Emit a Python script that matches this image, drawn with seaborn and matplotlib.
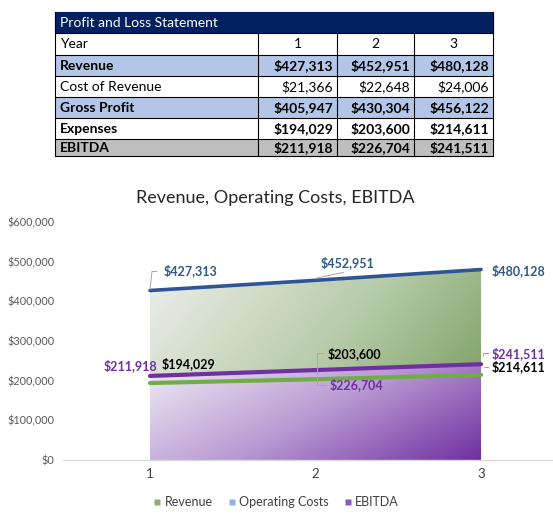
import numpy as np
import matplotlib
matplotlib.use("Agg")
import matplotlib.pyplot as plt
import seaborn as sns
from matplotlib.patches import Rectangle, Polygon
from matplotlib.colors import LinearSegmentedColormap
from matplotlib.lines import Line2D

# ---------------- data ----------------
years = [1, 2, 3]
revenue = [427313, 452951, 480128]
cost_of_revenue = [21366, 22648, 24006]
gross_profit = [405947, 430304, 456122]
expenses = [194029, 203600, 214611]
ebitda = [211918, 226704, 241511]
table_title = "Profit and Loss Statement"
row_labels = ["Year", "Revenue", "Cost of Revenue", "Gross Profit", "Expenses", "EBITDA"]
chart_title = "Revenue, Operating Costs, EBITDA"
legend_labels = ["Revenue", "Operating Costs", "EBITDA"]
y_ticks = [0, 100000, 200000, 300000, 400000, 500000, 600000]

sns.set_theme(style="white")
plt.rcParams['font.family'] = ['Lato', 'DejaVu Sans']

W, H = 553, 530
DPI = 100
fig = plt.figure(figsize=(W / DPI, H / DPI), dpi=DPI)
fig.patch.set_facecolor("white")


def px_rect(x0, y0, x1, y1):
    return [x0 / W, 1 - y1 / H, (x1 - x0) / W, (y1 - y0) / H]


def money(v):
    return "${:,.0f}".format(v)


# ---------------- table ----------------
tax = fig.add_axes([0, 0, 1, 1])
tax.set_xlim(0, W)
tax.set_ylim(H, 0)
tax.axis("off")

col_x = [55, 258, 337, 414, 493]
row_y = [12, 33, 55, 76, 97, 118, 139, 156]
navy = "#002060"
light_blue = "#b4c6e7"
gray = "#bfbfbf"

tax.add_patch(Rectangle((col_x[0], row_y[0]), col_x[-1] - col_x[0], row_y[1] - row_y[0],
                        facecolor=navy, edgecolor=navy, lw=0.8))
tax.text(col_x[0] + 5, (row_y[0] + row_y[1]) / 2 + 0.5, table_title, color="white",
         fontsize=10, va="center", ha="left")

rows = [
    (row_labels[0], years, "white", False, "center"),
    (row_labels[1], revenue, light_blue, True, "right"),
    (row_labels[2], cost_of_revenue, "white", False, "right"),
    (row_labels[3], gross_profit, light_blue, True, "right"),
    (row_labels[4], expenses, "white", True, "right"),
    (row_labels[5], ebitda, gray, True, "right"),
]
for i, (lab, vals, fc, bold, align) in enumerate(rows):
    y0, y1 = row_y[i + 1], row_y[i + 2]
    yc = (y0 + y1) / 2 + 0.5
    tax.add_patch(Rectangle((col_x[0], y0), col_x[-1] - col_x[0], y1 - y0,
                            facecolor=fc, edgecolor="none"))
    fw = "bold" if bold else "normal"
    tax.text(col_x[0] + 5, yc, lab, fontsize=10, fontweight=fw, va="center",
             ha="left", color="black")
    for j, v in enumerate(vals):
        if align == "center":
            tax.text((col_x[j + 1] + col_x[j + 2]) / 2, yc, str(v), fontsize=10,
                     va="center", ha="center", color="black")
        else:
            tax.text(col_x[j + 2] - 4, yc, money(v), fontsize=10, fontweight=fw,
                     va="center", ha="right", color="black")

for yy in row_y[1:]:
    tax.plot([col_x[0], col_x[-1]], [yy, yy], color="black", lw=0.8)
for xx in col_x[1:-1]:
    tax.plot([xx, xx], [row_y[1], row_y[-1]], color="black", lw=0.8)
tax.plot([col_x[0], col_x[0]], [row_y[0], row_y[-1]], color="black", lw=0.8)
tax.plot([col_x[-1], col_x[-1]], [row_y[0], row_y[-1]], color="black", lw=0.8)

# title of chart
tax.text(275, 198, chart_title, fontsize=13, color="#262626", ha="center", va="center")

# ---------------- chart ----------------
ax = fig.add_axes(px_rect(63, 222, 553, 460))
xmin = 1 - 87 / 165.5
xmax = 3 + 72 / 165.5
ymax = 600000


def grad_fill(x, y, colors, wx, wy, zorder):
    verts = [(x[0], 0)] + list(zip(x, y)) + [(x[-1], 0)]
    poly = Polygon(verts, closed=True, facecolor="none", edgecolor="none",
                   transform=ax.transData)
    ax.add_patch(poly)
    n = 300
    X, Y = np.meshgrid(np.linspace(0, 1, n), np.linspace(0, 1, n))
    t = wx * X + wy * Y
    t = (t - t.min()) / (t.max() - t.min())
    cmap = LinearSegmentedColormap.from_list("g", colors)
    im = ax.imshow(t, cmap=cmap, extent=[x[0], x[-1], 0, max(y)], origin="upper",
                   aspect="auto", zorder=zorder, interpolation="bilinear")
    im.set_clip_path(poly)


grad_fill(years, revenue, ["#eceeeb", "#b7cba9", "#6b9650"], 0.75, 0.35, 1)
grad_fill(years, ebitda, ["#efebf5", "#b99bd3", "#7030a0"], 0.65, 0.35, 2)

sns.lineplot(x=years, y=revenue, ax=ax, color="#2f5597", lw=2.6, zorder=5)
sns.lineplot(x=years, y=expenses, ax=ax, color="#70ad47", lw=3.0, zorder=5)
sns.lineplot(x=years, y=ebitda, ax=ax, color="#7030a0", lw=3.0, zorder=5)

ax.set_xlim(xmin, xmax)
ax.set_ylim(0, ymax)
ax.set_xticks(years)
ax.set_xticklabels([str(v) for v in years])
ax.set_yticks(y_ticks)
ax.set_yticklabels([money(v) for v in y_ticks])
ax.tick_params(axis="y", length=0, pad=6, labelsize=7.8, labelcolor="#595959")
ax.tick_params(axis="x", length=0, pad=6, labelsize=9.5, labelcolor="#404040")
for s in ["top", "right", "left"]:
    ax.spines[s].set_visible(False)
ax.spines["bottom"].set_color("#d9d9d9")
ax.spines["bottom"].set_linewidth(1.0)
ax.set_facecolor("none")
ax.grid(False)
ax.set_xlabel("")
ax.set_ylabel("")

# ---------------- data labels ----------------
k = 0.72  # pixels -> points
rev_c = "#2e5a88"
ebit_c = "#7030a0"
exp_c = "#000000"
label_specs = [
    # series, index, dx px, dy px (up positive), ha, color
    (revenue, 0, 14, 20, "left", rev_c),
    (revenue, 1, 32, 18, "center", rev_c),
    (revenue, 2, 11, -1, "left", rev_c),
    (expenses, 0, 12, 19, "left", exp_c),
    (expenses, 1, 12, 26, "left", exp_c),
    (expenses, 2, 11, 8, "left", exp_c),
    (ebitda, 0, 7, 10, "right", ebit_c),
    (ebitda, 1, 14, -15, "left", ebit_c),
    (ebitda, 2, 11, 11, "left", ebit_c),
]
for series, i, dx, dy, ha, col in label_specs:
    ax.annotate(money(series[i]), xy=(years[i], series[i]), xytext=(dx * k, dy * k),
                textcoords="offset points", ha=ha, va="center", fontsize=9,
                fontweight="bold", color=col, zorder=8)

# leader lines (pixel offsets from the data point, y up positive)
leaders = [
    (revenue, 0, [(0, 1), (2, 19), (7, 19)]),
    (revenue, 1, [(0, 2), (28, 8)]),
    (expenses, 1, [(1, 1), (1, 26), (7, 26)]),
    (ebitda, 1, [(1, -9), (1, -15), (10, -15)]),
    (expenses, 2, [(3, 8), (7, 8)]),
    (ebitda, 2, [(2, 8), (2, 11), (7, 11)]),
]
for series, i, pts in leaders:
    bx, by = ax.transData.transform((years[i], series[i]))
    xs = [bx + p[0] for p in pts]
    ys = [by + p[1] for p in pts]
    fig.add_artist(Line2D(xs, ys, transform=None, color="#a6a6a6", lw=0.7, zorder=7))

# ---------------- legend ----------------
handles = [
    Line2D([], [], marker="s", ls="none", markersize=5, markerfacecolor="#8cb074",
           markeredgecolor="none"),
    Line2D([], [], marker="s", ls="none", markersize=5, markerfacecolor="#8fb4de",
           markeredgecolor="none"),
    Line2D([], [], marker="s", ls="none", markersize=5, markerfacecolor="#8a5cb8",
           markeredgecolor="none"),
]
fig.legend(handles, legend_labels, loc="center", bbox_to_anchor=(275 / W, 1 - 502 / H),
           ncol=3, frameon=False, fontsize=9, handletextpad=0.1, columnspacing=1.0,
           labelcolor="#404040", handlelength=1.0)

fig.savefig("out.png", dpi=DPI, facecolor="white")
